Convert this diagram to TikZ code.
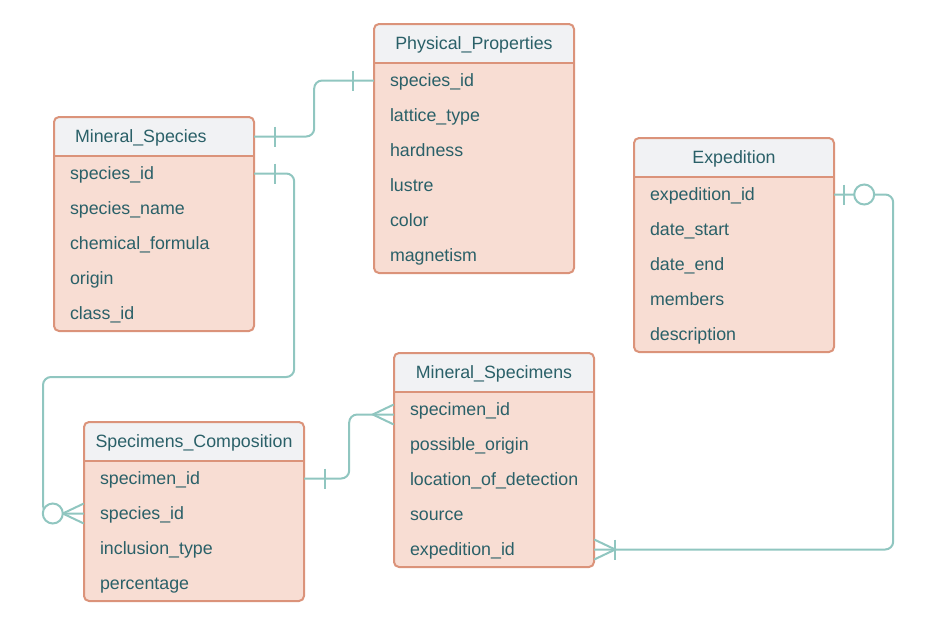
\documentclass[tikz,border=0pt]{standalone}
\usepackage{fontspec}
\setmainfont{Liberation Sans}

\definecolor{bodyc}{RGB}{248,221,211}
\definecolor{headc}{RGB}{241,242,244}
\definecolor{framec}{RGB}{219,147,122}
\definecolor{txtc}{RGB}{42,96,104}
\definecolor{relc}{RGB}{144,198,192}

\begin{document}
\begin{tikzpicture}[
        x=1pt, y=-1pt,
        every node/.style={font=\fontsize{17.8pt}{21pt}\selectfont, text=txtc,
            text height=14pt, text depth=2pt},
        tbody/.style={fill=bodyc, rounded corners=5pt},
        thead/.style={fill=headc, rounded corners=5pt},
        tframe/.style={draw=framec, line width=2pt, rounded corners=5pt},
        title/.style={minimum width=200pt, minimum height=39pt, inner sep=0pt},
        field/.style={text width=#1, align=left, inner xsep=16pt, inner ysep=0pt,
            minimum height=35pt},
        field/.default=168pt,
        rel/.style={draw=relc, line width=2pt, rounded corners=8pt},
        relend/.style={draw=relc, line width=2pt}
    ]

    \useasboundingbox (0,0) rectangle (931,629);

    % =====================================================
    % Mineral_Species
    % =====================================================
    \fill[tbody] (54,117) rectangle (254,331);
    \fill[thead] (54,117) rectangle (254,156) [sharp corners] (54,146) rectangle (254,156);
    \draw[tframe] (54,117) rectangle (254,331);
    \draw[tframe] (54,156) -- (254,156);

    \node[title, text width=158pt, align=left, inner xsep=21pt] (ms) at (154,136.5) {Mineral\_Species};
    \node[field] (ms1) at (154,173.5) {species\_id};
    \node[field] (ms2) at (154,208.5) {species\_name};
    \node[field] (ms3) at (154,243.5) {chemical\_formula};
    \node[field] (ms4) at (154,278.5) {origin};
    \node[field] (ms5) at (154,313.5) {class\_id};

    % =====================================================
    % Physical_Properties
    % =====================================================
    \fill[tbody] (374,24) rectangle (574,273);
    \fill[thead] (374,24) rectangle (574,63) [sharp corners] (374,53) rectangle (574,63);
    \draw[tframe] (374,24) rectangle (574,273);
    \draw[tframe] (374,63) -- (574,63);

    \node[title] (pp) at (474,43.5) {Physical\_Properties};
    \node[field] (pp1) at (474,80.5) {species\_id};
    \node[field] (pp2) at (474,115.5) {lattice\_type};
    \node[field] (pp3) at (474,150.5) {hardness};
    \node[field] (pp4) at (474,185.5) {lustre};
    \node[field] (pp5) at (474,220.5) {color};
    \node[field] (pp6) at (474,255.5) {magnetism};

    % =====================================================
    % Expedition
    % =====================================================
    \fill[tbody] (634,138) rectangle (834,352);
    \fill[thead] (634,138) rectangle (834,177) [sharp corners] (634,167) rectangle (834,177);
    \draw[tframe] (634,138) rectangle (834,352);
    \draw[tframe] (634,177) -- (834,177);

    \node[title] (exped) at (734,157.5) {Expedition};
    \node[field] (exped1) at (734,194.5) {expedition\_id};
    \node[field] (exped2) at (734,229.5) {date\_start};
    \node[field] (exped3) at (734,264.5) {date\_end};
    \node[field] (exped4) at (734,299.5) {members};
    \node[field] (exped5) at (734,334.5) {description};

    % =====================================================
    % Mineral_Specimens
    % =====================================================
    \fill[tbody] (394,353) rectangle (594,567);
    \fill[thead] (394,353) rectangle (594,392) [sharp corners] (394,382) rectangle (594,392);
    \draw[tframe] (394,353) rectangle (594,567);
    \draw[tframe] (394,392) -- (594,392);

    \node[title] (msp) at (494,372.5) {Mineral\_Specimens};
    \node[field] (msp1) at (494,409.5) {specimen\_id};
    \node[field] (msp2) at (494,444.5) {possible\_origin};
    \node[field] (msp3) at (494,479.5) {location\_of\_detection};
    \node[field] (msp4) at (494,514.5) {source};
    \node[field] (msp5) at (494,549.5) {expedition\_id};

    % =====================================================
    % Specimens_Composition
    % =====================================================
    \fill[tbody] (84,422) rectangle (304,601);
    \fill[thead] (84,422) rectangle (304,461) [sharp corners] (84,451) rectangle (304,461);
    \draw[tframe] (84,422) rectangle (304,601);
    \draw[tframe] (84,461) -- (304,461);

    \node[title, minimum width=220pt] (sc) at (194,441.5) {Specimens\_Composition};
    \node[field=188pt] (sc1) at (194,478.5) {specimen\_id};
    \node[field=188pt] (sc2) at (194,513.5) {species\_id};
    \node[field=188pt] (sc3) at (194,548.5) {inclusion\_type};
    \node[field=188pt] (sc4) at (194,583.5) {percentage};

    % =====================================================
    % Relations
    % =====================================================
    % species -- physical properties (one to one)
    \draw[rel] (ms.east) -- ++(60,0) |- (pp1.west);
    \draw[relend] ([xshift=21pt]ms.east) ++(0,-10) -- ++(0,20);
    \draw[relend] ([xshift=-21pt]pp1.west) ++(0,-10) -- ++(0,20);

    % species -- composition (one to zero or many)
    \draw[rel] (ms1.east) -- ++(40,0) |- (43,377) |- (sc2.west);
    \draw[relend] ([xshift=21pt]ms1.east) ++(0,-10) -- ++(0,20);
    \draw[relend] ([yshift=10pt]sc2.west) -- ([xshift=-21pt]sc2.west) -- ([yshift=-10pt]sc2.west);
    \draw[relend, fill=white] ([xshift=-31pt]sc2.west) circle (10pt);

    % composition -- specimens (one to many)
    \draw[rel] (sc1.east) -- ++(45,0) |- ([yshift=-5pt]msp1.west);
    \draw[relend] ([xshift=21pt]sc1.east) ++(0,-10) -- ++(0,20);
    \draw[relend] ([yshift=5pt]msp1.west) -- ([xshift=-21pt,yshift=-5pt]msp1.west)
        -- ([yshift=-15pt]msp1.west);

    % expedition -- specimens (zero or one to one or many)
    \draw[rel] (exped1.east) -- ++(59,0) |- (msp5.east);
    \draw[relend] ([xshift=10pt]exped1.east) ++(0,-10) -- ++(0,20);
    \draw[relend, fill=white] ([xshift=30pt]exped1.east) circle (10pt);
    \draw[relend] ([yshift=10pt]msp5.east) -- ([xshift=21pt]msp5.east) -- ([yshift=-10pt]msp5.east);
    \draw[relend] ([xshift=21pt]msp5.east) ++(0,-10) -- ++(0,20);

\end{tikzpicture}
\end{document}
